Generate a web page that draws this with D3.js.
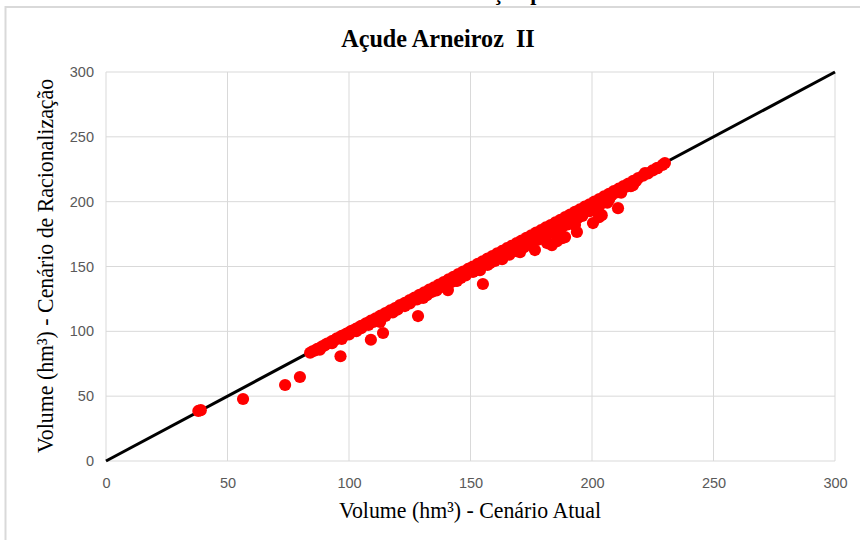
<!DOCTYPE html>
<html>
<head>
<meta charset="utf-8">
<script src="https://cdn.jsdelivr.net/npm/d3@7"></script>
<style>
  html, body { margin: 0; padding: 0; background: #fff; }
  svg { display: block; }
  text { white-space: pre; }
</style>
</head>
<body>
<svg id="chart" width="860" height="540"></svg>
<script>
// ---------------- DATA ----------------
const chartTitle = "Açude Arneiroz  II";
const xAxisTitle = "Volume (hm³) - Cenário Atual";
const yAxisTitle = "Volume (hm³) - Cenário de Racionalização";
const xTickValues = [0, 50, 100, 150, 200, 250, 300];
const yTickValues = [0, 50, 100, 150, 200, 250, 300];
const lineX = [0, 300];
const lineY = [0, 300];

// Volume (hm³) - Cenário Atual
const volumeAtual = [
  84,85,86,87,88,89,90,91,92,93,94,95,96,97,98,99,100,101,102,103,104,105,106,107,108,109,110,
  111,112,113,114,115,116,117,118,119,120,121,122,123,124,125,126,127,128,129,130,
  131,132,133,134,135,136,137,138,139,140,141,142,143,144,145,146,147,148,149,150,
  151,152,153,154,155,156,157,158,159,160,161,162,163,164,165,166,167,168,169,170,
  171,172,173,174,175,176,177,178,179,180,181,182,183,184,185,186,187,188,189,190,
  191,192,193,194,195,196,197,198,199,200,201,202,203,204,205,206,207,208,209,210,
  211,212,213,214,215,216,217,218,219,221,223,225,227,229,230,
  132,136,140,144,148,151,154,157,160,163,166,169,172,175,178,181,184,187,190,193,196,199,203,207,212,216,
  88,93,100,105,110,115,120,125,128,146,152,158,164,170,176,182,188,194,200,
  97,103,108,113,118,123,134,138,142,
  38,39,56.4,73.7,79.8,96.5,109,114,112.8,128.4,130.5,140.7,144.4,155.1,153.9,163,170.4,176.5,
  181.5,183.5,185.6,187.7,188.9,193,193.8,200.4,202.9,204,210.7,206.3,216.9,221.8,226.7
];
// Volume (hm³) - Cenário de Racionalização
const volumeRacionalizacao = [
  83.5,84.6,85.2,86.5,87.1,88.4,89.2,90.6,91.0,92.4,93.1,94.6,95.0,96.5,96.8,98.3,99.1,100.4,100.6,102.2,102.9,104.3,104.6,106.1,106.8,108.2,108.5,
  110.0,110.4,112.1,112.3,114.0,114.5,116.1,116.2,118.0,118.4,120.2,120.1,122.0,122.3,124.1,123.9,126.0,126.2,128.1,127.5,
  130.0,130.2,132.1,131.8,134.0,133.4,136.1,135.7,138.0,137.2,140.1,139.5,142.0,141.1,144.2,143.6,146.0,144.9,148.1,147.5,
  150.0,148.8,152.1,151.2,154.0,152.6,156.1,155.0,158.0,156.3,160.1,158.7,162.0,160.2,164.1,162.5,166.0,163.9,168.1,166.4,
  170.0,167.8,172.1,170.2,174.0,171.6,176.1,174.0,178.0,175.5,180.1,177.8,182.0,179.3,184.1,181.7,186.0,183.2,188.1,185.6,
  190.0,187.3,192.1,189.8,194.0,191.4,196.1,193.9,198.0,195.8,200.1,198.2,202.0,200.5,204.1,202.7,206.0,204.9,208.1,207.2,
  210.0,209.4,212.1,211.5,214.0,213.6,216.1,215.8,218.2,220.0,221.8,224.1,225.9,228.3,229.8,
  127.8,131.5,135.2,139.0,143.1,145.8,148.9,151.2,154.3,155.6,159.1,161.8,164.9,167.2,170.8,173.0,175.9,179.1,182.5,185.4,189.0,192.6,196.8,201.5,206.9,212.0,
  85.9,90.8,97.6,102.4,107.3,111.9,116.8,121.5,124.6,141.2,147.0,152.6,158.3,164.1,169.9,175.4,181.0,187.2,193.5,
  94.2,100.1,105.0,109.8,114.6,119.5,130.3,134.2,137.9,
  38.6,39.2,47.8,58.6,64.8,80.8,93.5,98.7,107.2,111.8,125.7,131.8,138.8,136.5,147.2,156.5,161.1,162.7,
  168.1,166.5,169.6,171.9,172.7,182,176.6,183.5,188.1,189.6,195,199.3,212.8,222,225.9
];

// ---------------- CHART ----------------
const svg = d3.select("#chart");
const x = d3.scaleLinear().domain([0, 300]).range([106, 835]);
const y = d3.scaleLinear().domain([0, 300]).range([461, 72]);
const serif = "'Liberation Serif', 'Times New Roman', serif";

// outer chart border
svg.append("rect").attr("x", 5.5).attr("y", 7).attr("width", 1000).attr("height", 1000)
  .attr("fill", "none").attr("stroke", "#d9d9d9").attr("stroke-width", 2);

// cut-off text from above the chart
svg.append("text").attr("x", 493).attr("y", 0)
  .attr("font-family", serif)
  .attr("font-weight", "bold").attr("font-size", 22).attr("fill", "#000")
  .text("ção p");

// gridlines
svg.append("g").selectAll("line").data(xTickValues).join("line")
  .attr("x1", d => x(d)).attr("x2", d => x(d))
  .attr("y1", y(0)).attr("y2", y(300))
  .attr("stroke", "#d9d9d9").attr("stroke-width", 1);
svg.append("g").selectAll("line").data(yTickValues).join("line")
  .attr("x1", x(0)).attr("x2", x(300))
  .attr("y1", d => y(d)).attr("y2", d => y(d))
  .attr("stroke", "#d9d9d9").attr("stroke-width", 1);

// axes (tick labels only)
const xAxis = d3.axisBottom(x).tickValues(xTickValues).tickSize(0).tickPadding(17);
const gx = svg.append("g").attr("transform", `translate(0,${y(0)})`).call(xAxis);
const yAxis = d3.axisLeft(y).tickValues(yTickValues).tickSize(0).tickPadding(12);
const gy = svg.append("g").attr("transform", `translate(${x(0)},0)`).call(yAxis);
[gx, gy].forEach(g => {
  g.select(".domain").remove();
  g.selectAll("text")
    .attr("font-family", "'Liberation Sans', Arial, sans-serif")
    .attr("font-size", 14.5).attr("fill", "#595959");
});

// 1:1 line
const pts = lineX.map((d, i) => [d, lineY[i]]);
svg.append("path")
  .attr("d", d3.line().x(d => x(d[0])).y(d => y(d[1]))(pts))
  .attr("stroke", "#000").attr("stroke-width", 3).attr("fill", "none");

// scatter
const data = volumeAtual.map((d, i) => ({ a: d, r: volumeRacionalizacao[i] }));
svg.append("g").selectAll("circle").data(data).join("circle")
  .attr("cx", d => x(d.a)).attr("cy", d => y(d.r)).attr("r", 6.1)
  .attr("fill", "#ff0000");

// titles
svg.append("text").attr("transform", "translate(438,47) scale(0.93,1)")
  .attr("text-anchor", "middle")
  .attr("font-family", serif)
  .attr("font-weight", "bold").attr("font-size", 26).attr("fill", "#000")
  .text(chartTitle);

svg.append("text").attr("transform", "translate(470,518) scale(0.95,1)")
  .attr("text-anchor", "middle")
  .attr("font-family", serif)
  .attr("font-size", 23).attr("fill", "#000")
  .text(xAxisTitle);

svg.append("text").attr("transform", "translate(53,266) rotate(-90) scale(0.95,1)")
  .attr("text-anchor", "middle")
  .attr("font-family", serif)
  .attr("font-size", 23).attr("fill", "#000")
  .text(yAxisTitle);
</script>
</body>
</html>
